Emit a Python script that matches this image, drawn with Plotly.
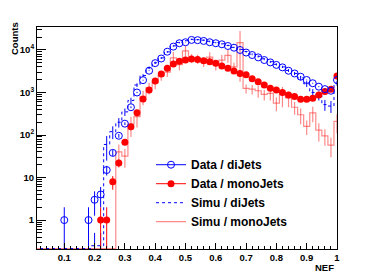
import math
import plotly.graph_objects as go

# NEF bin centres (bin width 0.02)
nef = [0.00, 0.02, 0.04, 0.06, 0.08, 0.10, 0.12, 0.14, 0.16, 0.18,
       0.20, 0.22, 0.24, 0.26, 0.28, 0.30, 0.32, 0.34, 0.36, 0.38,
       0.40, 0.42, 0.44, 0.46, 0.48, 0.50, 0.52, 0.54, 0.56, 0.58,
       0.60, 0.62, 0.64, 0.66, 0.68, 0.70, 0.72, 0.74, 0.76, 0.78,
       0.80, 0.82, 0.84, 0.86, 0.88, 0.90, 0.92, 0.94, 0.96, 0.98, 1.00]

data_dijets = [0, 0, 0, 0, 0, 1, 0, 0, 0, 1,
               3, 4, 15, 38, 96, 185, 450, 1000, 1950, 3250,
               4900, 6300, 9100, 12000, 14400, 15200, 17200, 17000, 16300, 15200,
               14400, 13600, 12400, 11300, 10000, 8700, 7600, 6700, 5800, 5100,
               4450, 3900, 3250, 2800, 2350, 1970, 1650, 1370, 1200, 1100, 1970]

data_monojets = [0, 0, 0, 0, 0, 0, 0, 0, 0, 0,
                 0, 1, 1, 8, 22, 68, 157, 333, 700, 1150,
                 1870, 2740, 3700, 4700, 5400, 5800, 6100, 6000, 5600, 5300,
                 4900, 4200, 3700, 3200, 2800, 2600, 2100, 1800, 1500, 1260,
                 1150, 1000, 870, 800, 690, 690, 730, 870, 1050, 1190, 2450]

simu_dijets = [0, 0, 0, 0, 0, 0, 0, 0, 0, 0,
               0.25, 0.25, 60, 120, 200, 350, 650, 1500, 2500, 3800,
               5000, 6500, 9000, 12500, 15000, 16500, 17800, 17500, 17000, 16000,
               15000, 14000, 12800, 11500, 10300, 9200, 8000, 7100, 6200, 5300,
               4600, 4000, 3300, 2800, 2200, 1600, 1000, 850, 520, 480, 1650]

simu_dijets_err = [0, 0, 0, 0, 0, 0, 0, 0, 0, 0,
                   0.25, 0.25, 35, 40, 50, 70, 100, 150, 200, 250,
                   300, 350, 400, 450, 500, 500, 550, 550, 500, 500,
                   450, 450, 400, 400, 350, 350, 300, 300, 300, 250,
                   250, 250, 250, 250, 250, 250, 200, 200, 150, 150, 200]

simu_monojets = [0, 0, 0, 0, 0, 0, 0, 0, 0, 0,
                 0, 0, 0, 0, 40, 32, 180, 270, 800, 1300,
                 1700, 2500, 3000, 6500, 4500, 9500, 6500, 6200, 5200, 6800,
                 4500, 5800, 7500, 4000, 14800, 1250, 1200, 1100, 900, 950,
                 560, 900, 750, 450, 300, 160, 330, 130, 96, 58, 210]

simu_monojets_err = [0, 0, 0, 0, 0, 0, 0, 0, 0, 0,
                     0, 0, 0, 0, 20, 15, 90, 120, 300, 400,
                     500, 600, 700, 2500, 1200, 3000, 1500, 1500, 1200, 2000,
                     1200, 1800, 2500, 1000, 13000, 300, 300, 350, 250, 300,
                     200, 450, 300, 150, 120, 60, 130, 60, 40, 28, 100]

x_ticks = [0.1, 0.2, 0.3, 0.4, 0.5, 0.6, 0.7, 0.8, 0.9, 1.0]
x_ticktext = ["0.1", "0.2", "0.3", "0.4", "0.5", "0.6", "0.7", "0.8", "0.9", "1"]
y_ticks = [1, 10, 100, 1000, 10000]
y_ticktext = ["1", "10", "10<sup>2</sup>", "10<sup>3</sup>", "10<sup>4</sup>"]

YLOG = [-0.68, 4.54]
FLOOR = 10 ** (YLOG[0] + 0.01)

BLUE = "#0000ff"
RED = "#ff0000"
LRED = "rgba(255,40,40,0.55)"
FONT = "Liberation Sans, Arial, sans-serif"


def hist_y(vals):
    return [v if v > 0 else FLOOR for v in vals]


def err_minus(vals, errs):
    return [min(e, v * 0.999) if v > 0 else 0 for v, e in zip(vals, errs)]


def points(vals):
    xs, ys, es = [], [], []
    for x, v in zip(nef, vals):
        if v > 0:
            xs.append(x)
            ys.append(v)
            es.append(math.sqrt(v))
    return xs, ys, es


fig = go.Figure()

# Simu / monoJets histogram
fig.add_trace(go.Scatter(
    x=nef, y=hist_y(simu_monojets), mode="lines", line_shape="hvh",
    line=dict(color=LRED, width=1.2), name="Simu / monoJets",
    error_y=dict(type="data", array=simu_monojets_err,
                 arrayminus=err_minus(simu_monojets, simu_monojets_err),
                 color=LRED, thickness=1.2, width=0),
    legendrank=4, showlegend=True))

# Simu / diJets histogram
fig.add_trace(go.Scatter(
    x=nef, y=hist_y(simu_dijets), mode="lines", line_shape="hvh",
    line=dict(color=BLUE, width=1, dash="dot"), name="Simu / diJets",
    error_y=dict(type="data", array=simu_dijets_err,
                 arrayminus=err_minus(simu_dijets, simu_dijets_err),
                 color=BLUE, thickness=1, width=0),
    legendrank=3, showlegend=True))

# Data / monoJets
xs, ys, es = points(data_monojets)
fig.add_trace(go.Scatter(
    x=xs, y=ys, mode="markers",
    marker=dict(symbol="circle", size=7, color=RED),
    error_y=dict(type="data", array=es, arrayminus=err_minus(ys, es),
                 color=RED, thickness=1, width=0),
    name="Data / monoJets", showlegend=False))

# Data / diJets
xs, ys, es = points(data_dijets)
fig.add_trace(go.Scatter(
    x=xs, y=ys, mode="markers",
    marker=dict(symbol="circle-open", size=7, color=BLUE, line=dict(width=1)),
    error_y=dict(type="data", array=es, arrayminus=err_minus(ys, es),
                 color=BLUE, thickness=1, width=0),
    name="Data / diJets", showlegend=False))

# legend entries for data (line + marker, ROOT "lep" style)
fig.add_trace(go.Scatter(
    x=[None], y=[None], mode="lines+markers", name="Data / diJets",
    line=dict(color=BLUE, width=1),
    marker=dict(symbol="circle-open", size=7, color=BLUE, line=dict(width=1)),
    legendrank=1))
fig.add_trace(go.Scatter(
    x=[None], y=[None], mode="lines+markers", name="Data / monoJets",
    line=dict(color=RED, width=1),
    marker=dict(symbol="circle", size=7, color=RED),
    legendrank=2))

# page body has an 8px margin: figure is 366x269 placed at (8, 8)
fig.update_layout(
    width=366, height=269,
    margin=dict(l=29, r=37, t=19, b=28),
    paper_bgcolor="white", plot_bgcolor="white",
    font=dict(family=FONT, color="black"),
    showlegend=True,
    legend=dict(x=0.38, y=0.445, xanchor="left", yanchor="top",
                bgcolor="rgba(0,0,0,0)", borderwidth=0,
                font=dict(size=12, family=FONT, color="black", weight="bold"),
                itemwidth=30, tracegroupgap=0, traceorder="normal"),
    xaxis=dict(range=[0.01, 1.0], showgrid=False, zeroline=False,
               showline=True, linecolor="black", linewidth=1, mirror=True,
               ticks="inside", ticklen=6, tickcolor="black",
               tickvals=x_ticks, ticktext=x_ticktext,
               tickfont=dict(size=9.5, family=FONT, weight="bold"),
               minor=dict(ticks="inside", ticklen=3, dtick=0.02, tick0=0,
                          tickcolor="black", showgrid=False)),
    yaxis=dict(type="log", range=YLOG, showgrid=False, zeroline=False,
               showline=True, linecolor="black", linewidth=1, mirror=True,
               ticks="inside", ticklen=9, tickcolor="black",
               tickvals=y_ticks, ticktext=y_ticktext,
               tickfont=dict(size=9.5, family=FONT, weight="bold"),
               minor=dict(ticks="inside", ticklen=5, dtick="D1",
                          tickcolor="black", showgrid=False)),
    annotations=[
        dict(text="Counts", textangle=-90, x=-0.077, y=0.95,
             xref="paper", yref="paper", xanchor="center", yanchor="middle",
             showarrow=False, font=dict(size=9.5, family=FONT, weight="bold")),
        dict(text="NEF", x=0.997, y=-0.083, xref="paper", yref="paper",
             xanchor="right", yanchor="middle", showarrow=False,
             font=dict(size=9.5, family=FONT, weight="bold")),
    ],
)

fig.write_html("out.html")
